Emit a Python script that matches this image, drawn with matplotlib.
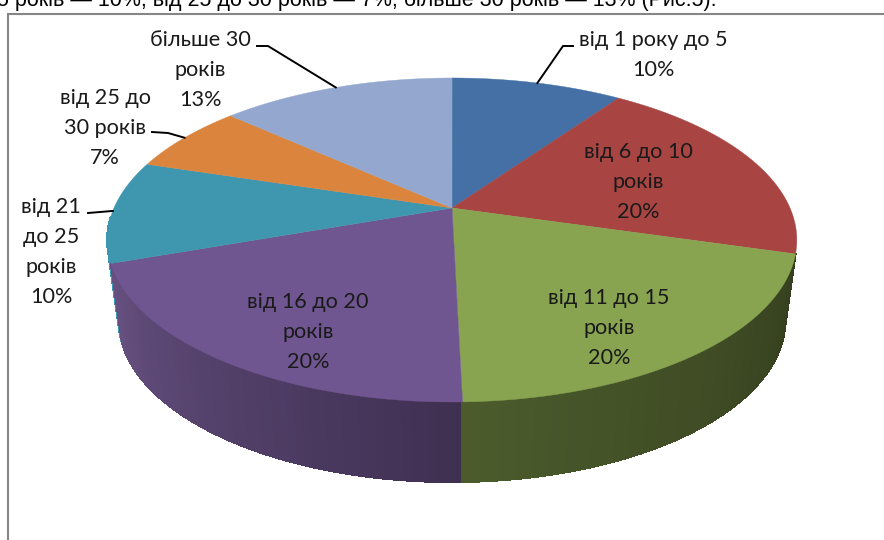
#!/usr/bin/env python3
import numpy as np
import matplotlib
matplotlib.use('Agg')
import matplotlib.pyplot as plt
from matplotlib.collections import LineCollection, PolyCollection
from matplotlib.colors import to_rgb
from matplotlib.patches import Polygon

plt.rcParams['font.family'] = ['Lato', 'Open Sans', 'DejaVu Sans']

CATEGORIES = ['від 1 року до 5', 'від 6 до 10\nроків', 'від 11 до 15\nроків',
              'від 16 до 20\nроків', 'від 21\nдо 25\nроків', 'від 25 до\n30 років',
              'більше 30\nроків']
VALUES = [9.7, 19.8, 20.1, 20.0, 10.2, 6.9, 13.3]
COLORS = ['#4470a6', '#a84543', '#88a450', '#705690', '#3f97af', '#db843d', '#94a8cf']
HEADING = '5 років — 10%, від 25 до 30 років — 7%, більше 30 років — 13% (Рис.5).'


def project(theta, lower=False):
    # circle -> perspective ellipse, theta clockwise from 12 o'clock
    u, v = np.sin(theta), np.cos(theta)
    w = 1 + 0.1975 * v
    x = (452 + 338 * u + 89.3 * v) / w
    y = (208 - 114.6 * v) / w
    if lower:
        x = 452 + (x - 452) * 0.967
        y = y + 80
    return x, y


fig = plt.figure(figsize=(8.84, 5.4), dpi=100)
ax = fig.add_axes([0, 0, 1, 1])
ax.set_xlim(0, 884)
ax.set_ylim(540, 0)
ax.axis('off')

# page text and chart frame
ax.text(-3, 6, HEADING, family='Liberation Sans', fontsize=15.5, color='black', va='baseline', ha='left')
ax.plot([7.5, 7.5, 884], [540, 13.5, 13.5], color='#868686', lw=1.5, solid_joinstyle='miter')

edges = 2 * np.pi * np.concatenate([[0], np.cumsum(VALUES)]) / sum(VALUES)

# side wall, back to front
side_shades = {4: ('#3f97af', '#3f97af'), 3: ('#665080', '#3f3052'), 2: ('#4b5b2c', '#353f1e')}
for i, (light, dark) in side_shades.items():
    a0 = edges[i]
    a1 = edges[i + 1]
    if i == 4:
        a1 = a0 + np.radians(16)
    th = np.linspace(a0, a1, 60)
    tx, ty = project(th)
    bx, by = project(th, lower=True)
    polys = [[(tx[k], ty[k]), (tx[k + 1], ty[k + 1]), (bx[k + 1], by[k + 1]), (bx[k], by[k])]
             for k in range(len(th) - 1)]
    # each wall starts dark at its clockwise-first end
    t = np.linspace(1, 0, len(polys))
    rgb0, rgb1 = np.array(to_rgb(light)), np.array(to_rgb(dark))
    cols = [tuple(rgb0 + (rgb1 - rgb0) * s) for s in t]
    ax.add_collection(PolyCollection(polys, facecolors=cols, edgecolors=cols, linewidths=0.8,
                                     antialiaseds=False, zorder=2))
    # smooth outer rim over the jagged wall edge
    rim = [[(bx[k], by[k]), (bx[k + 1], by[k + 1])] for k in range(len(th) - 1)]
    ax.add_collection(LineCollection(rim, colors=cols, linewidths=1.0, zorder=2))

# top face
for i, col in enumerate(COLORS):
    th = np.linspace(edges[i], edges[i + 1], 120)
    x, y = project(th)
    pts = np.column_stack([np.r_[452, x], np.r_[208, y]])
    ax.add_patch(Polygon(pts, closed=True, facecolor=col, edgecolor=col, lw=0.3, zorder=3))

# labels
label_pos = [(653, 55), (638, 182), (609, 328), (308, 332), (51, 252), (105, 128), (200, 70)]
for name, val, (lx, ly) in zip(CATEGORIES, VALUES, label_pos):
    ax.text(lx, ly, f'{name}\n{round(val)}%', ha='center', va='center', fontsize=15.6,
            color='#1a1a1a', linespacing=1.62, zorder=5)

# leader lines go to the middle of their slice
mids = (edges[:-1] + edges[1:]) / 2
leaders = {0: [(573, 46), (563, 46)], 6: [(257, 46), (268, 46)],
           5: [(152, 132), (168, 133)], 4: [(88, 213)]}
for i, pts in leaders.items():
    ex, ey = project(mids[i])
    xs = [p[0] for p in pts] + [ex]
    ys = [p[1] for p in pts] + [ey]
    ax.plot(xs, ys, color='black', lw=1.4, zorder=4, solid_joinstyle='round')

fig.savefig('out.png', dpi=100)
